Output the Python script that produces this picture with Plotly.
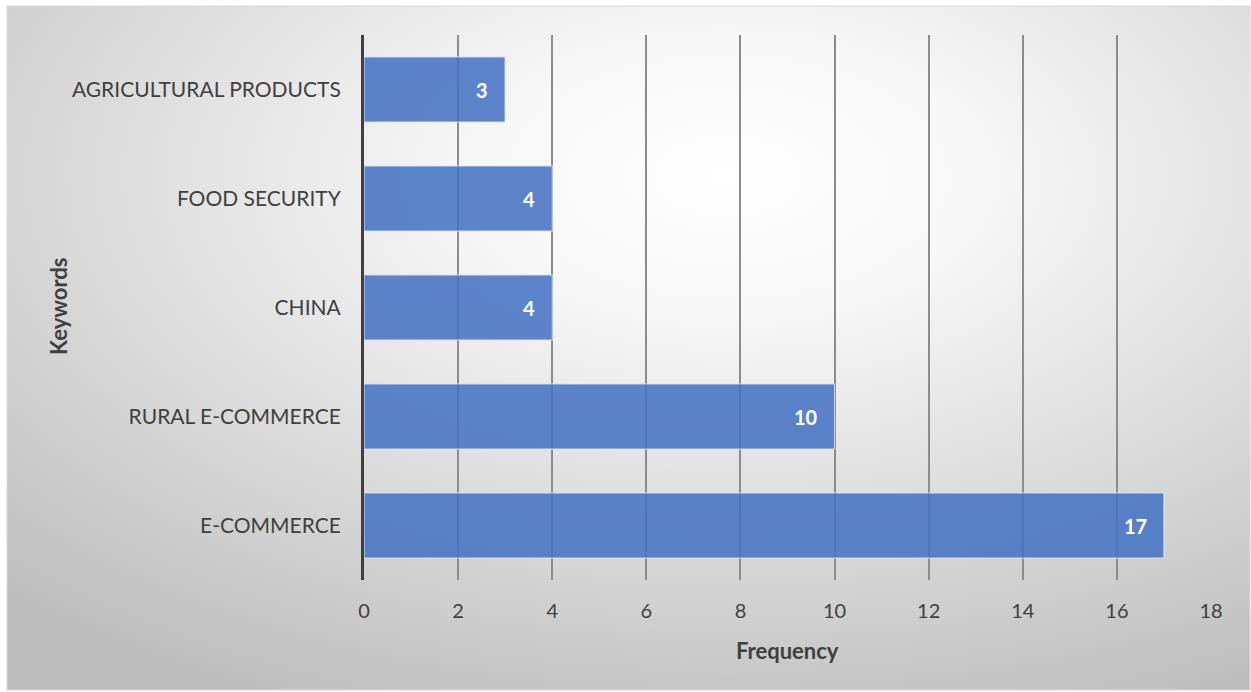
import base64
import plotly.graph_objects as go

categories = ["E-COMMERCE", "RURAL E-COMMERCE", "CHINA", "FOOD SECURITY", "AGRICULTURAL PRODUCTS"]
frequency = [17, 10, 4, 4, 3]
x_ticks = [0, 2, 4, 6, 8, 10, 12, 14, 16, 18]

W, H = 1251, 692
L, R, T, B = 364, 40, 35, 112
PW, PH = W - L - R, H - T - B


def fx(px):
    return (px - L) / PW


def fy(py):
    return (H - B - py) / PH


svg = (
    '<svg xmlns="http://www.w3.org/2000/svg" width="100" height="100" '
    'viewBox="0 0 100 100" preserveAspectRatio="none">'
    '<defs><radialGradient id="g" cx="0.58" cy="0.25" r="0.85" '
    'gradientUnits="objectBoundingBox">'
    '<stop offset="0" stop-color="#ffffff"/>'
    '<stop offset="0.25" stop-color="#f6f6f6"/>'
    '<stop offset="1" stop-color="#bdbdbd"/>'
    '</radialGradient></defs>'
    '<rect x="0" y="0" width="100" height="100" fill="url(#g)"/></svg>'
)
src = "data:image/svg+xml;base64," + base64.b64encode(svg.encode()).decode()

FONT = "Lato"

fig = go.Figure()
fig.add_trace(go.Bar(
    y=categories, x=frequency, orientation="h",
    marker=dict(color="#4472c4", opacity=0.86, line=dict(color="rgba(255,255,255,0.7)", width=1.2)),
    width=0.6, hoverinfo="skip",
))

for c, v in zip(categories, frequency):
    fig.add_annotation(x=v, y=c, xref="x", yref="y", text=f"<b>{v}</b>", showarrow=False,
                       xanchor="right", xshift=-15,
                       font=dict(family=FONT, size=20, color="white"))

fig.add_annotation(x=fx(787), y=fy(650), xref="paper", yref="paper", text="<b>Frequency</b>",
                   showarrow=False, xanchor="center", yanchor="middle",
                   font=dict(family=FONT, size=22, color="#404040"))
fig.add_annotation(x=fx(58), y=fy(307), xref="paper", yref="paper", text="<b>Keywords</b>",
                   showarrow=False, textangle=-90, xanchor="center", yanchor="middle",
                   font=dict(family=FONT, size=22, color="#404040"))

fig.add_layout_image(dict(source=src, xref="paper", yref="paper", x=fx(7), y=fy(6),
                          sizex=fx(1250) - fx(7), sizey=fy(6) - fy(690), xanchor="left", yanchor="top",
                          sizing="stretch", layer="below"))
fig.add_shape(type="rect", xref="paper", yref="paper", x0=fx(7), x1=fx(1250), y0=fy(690), y1=fy(6),
              line=dict(color="#d9d9d9", width=1), fillcolor="rgba(0,0,0,0)", layer="below")

fig.update_layout(
    width=W, height=H, margin=dict(l=L, r=R, t=T, b=B),
    paper_bgcolor="white", plot_bgcolor="rgba(0,0,0,0)",
    showlegend=False, bargap=0.4,
    font=dict(family=FONT, color="#404040"),
)
fig.update_xaxes(range=[0, 18], tickvals=x_ticks, showgrid=True, gridcolor="#8c8c8c", gridwidth=1.5,
                 zeroline=False, showline=False, tickfont=dict(size=20, color="#404040"),
                 ticklabelstandoff=17, fixedrange=True)
fig.update_yaxes(categoryorder="array", categoryarray=categories, showgrid=False, zeroline=False,
                 showline=True, linecolor="#404040", linewidth=3,
                 tickfont=dict(size=21, color="#404040"), ticklabelstandoff=16, fixedrange=True)

fig.write_html("out.html")
